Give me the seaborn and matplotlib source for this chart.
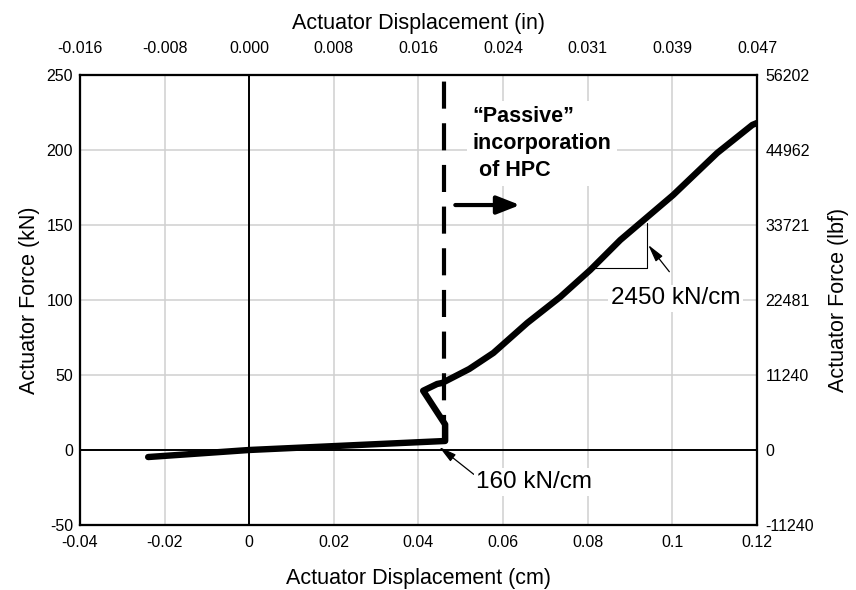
import matplotlib
matplotlib.use('Agg')
import matplotlib.pyplot as plt
import seaborn as sns

# Force-displacement trace
disp_cm = [-0.0239, 0.0, 0.0463, 0.0463, 0.0411, 0.0444, 0.0456, 0.0520, 0.0577, 0.0657,
           0.0735, 0.0806, 0.0877, 0.1002, 0.1106, 0.1189, 0.1200]
force_kn = [-4.7, 0.0, 6.0, 17.0, 39.5, 44.0, 44.7, 54.0, 64.7, 84.7,
            102.0, 120.0, 140.0, 170.0, 198.0, 216.7, 218.0]

# axis ticks and labels
x_ticks_cm = [-0.04, -0.02, 0, 0.02, 0.04, 0.06, 0.08, 0.1, 0.12]
x_tick_labels_cm = ['-0.04', '-0.02', '0', '0.02', '0.04', '0.06', '0.08', '0.1', '0.12']
x_tick_labels_in = ['-0.016', '-0.008', '0.000', '0.008', '0.016', '0.024', '0.031', '0.039', '0.047']
y_ticks_kn = [-50, 0, 50, 100, 150, 200, 250]
y_tick_labels_lbf = ['-11240', '0', '11240', '22481', '33721', '44962', '56202']

# annotations
hpc_x = 0.0461
hpc_y = [5, 250]
hpc_arrow_x = [0.0487, 0.0640]
hpc_arrow_y = 163.3
slope_tri_x = [0.0813, 0.0939, 0.0939]
slope_tri_y = [121.3, 121.3, 151.3]

sns.set_style('white')
plt.rcParams['font.family'] = ['Liberation Sans', 'DejaVu Sans']
plt.rcParams['text.color'] = 'black'
plt.rcParams['axes.labelcolor'] = 'black'
plt.rcParams['xtick.color'] = 'black'
plt.rcParams['ytick.color'] = 'black'
plt.rcParams['axes.unicode_minus'] = False

fig = plt.figure(figsize=(8.56, 5.9), dpi=100)
ax = fig.add_axes([0.0935, 0.1102, 0.7908, 0.7627])

ax.set_xlim(-0.04, 0.12)
ax.set_ylim(-50, 250)
ax.set_xticks(x_ticks_cm)
ax.set_xticklabels(x_tick_labels_cm)
ax.set_yticks(y_ticks_kn)
ax.grid(True, color='#d0d0d0', linewidth=1.1)
ax.set_axisbelow(True)
ax.axhline(0, color='black', linewidth=1.4, zorder=1.5)
ax.axvline(0, color='black', linewidth=1.4, zorder=1.5)

sns.lineplot(x=disp_cm, y=force_kn, sort=False, estimator=None, color='black',
             linewidth=4.6, ax=ax, zorder=4, solid_capstyle='round', solid_joinstyle='round')

ax.vlines(hpc_x, hpc_y[0], hpc_y[1], colors='black', linewidth=3,
          linestyles=(0, (6.5, 3.5)), zorder=3)
ax.annotate('', xy=(hpc_arrow_x[1], hpc_arrow_y), xytext=(hpc_arrow_x[0], hpc_arrow_y),
            arrowprops=dict(arrowstyle='-|>,head_length=1.4,head_width=0.55',
                            color='black', linewidth=3, shrinkA=0, shrinkB=0), zorder=5)
ax.text(0.0528, 229, '\u201cPassive\u201d\nincorporation\n of HPC', fontsize=15.5,
        fontweight='bold', va='top', ha='left', linespacing=1.35, zorder=5,
        bbox=dict(facecolor='white', edgecolor='none', pad=4))

ax.plot(slope_tri_x, slope_tri_y, color='black', linewidth=0.8, zorder=3)
ax.annotate('2450 kN/cm', xy=(0.0943, 136.7), xytext=(0.1007, 101), fontsize=17.5,
            ha='center', va='center', zorder=5,
            bbox=dict(facecolor='white', edgecolor='none', pad=2),
            arrowprops=dict(arrowstyle='-|>,head_length=0.6,head_width=0.15',
                            color='black', linewidth=0.9, shrinkA=12, shrinkB=0,
                            relpos=(0.55, 1.0)))
ax.annotate('160 kN/cm', xy=(0.0449, 2), xytext=(0.0674, -21.3), fontsize=17.5,
            ha='center', va='center', zorder=5,
            bbox=dict(facecolor='white', edgecolor='none', pad=2),
            arrowprops=dict(arrowstyle='-|>,head_length=0.6,head_width=0.15',
                            color='black', linewidth=0.9, shrinkA=0, shrinkB=0,
                            relpos=(0.0, 0.75)))

for s in ax.spines.values():
    s.set_linewidth(1.5)
    s.set_color('black')
ax.tick_params(axis='x', length=0, labelsize=11.5, pad=7)
ax.tick_params(axis='y', length=0, labelsize=11.5, pad=5)
ax.set_xlabel('Actuator Displacement (cm)', fontsize=15.5, labelpad=13)
ax.set_ylabel('Actuator Force (kN)', fontsize=15.5, labelpad=5)

# top axis in inches
axt = ax.twiny()
axt.set_xlim(ax.get_xlim())
axt.set_xticks(x_ticks_cm)
axt.set_xticklabels(x_tick_labels_in)
axt.tick_params(length=0, labelsize=11.5, pad=14)
axt.set_xlabel('Actuator Displacement (in)', fontsize=15.5, labelpad=8)

# right axis in lbf
axr = ax.twinx()
axr.set_ylim(ax.get_ylim())
axr.set_yticks(y_ticks_kn)
axr.set_yticklabels(y_tick_labels_lbf)
axr.tick_params(length=0, labelsize=11.5, pad=6)
axr.set_ylabel('Actuator Force (lbf)', fontsize=15.5, labelpad=10)
for a in (axt, axr):
    for s in a.spines.values():
        s.set_linewidth(1.5)
        s.set_color('black')

fig.savefig('out.png', dpi=100)
